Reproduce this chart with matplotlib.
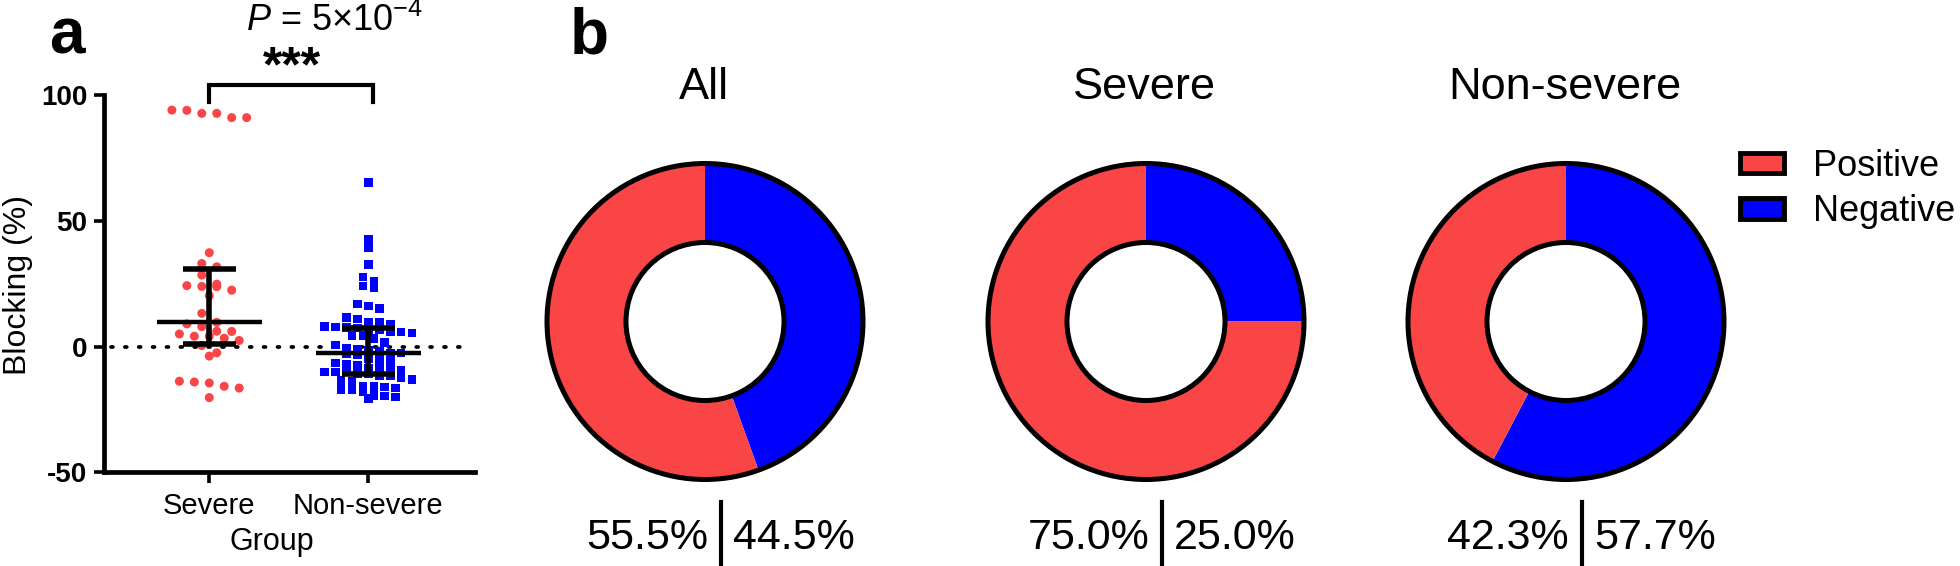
import numpy as np
import matplotlib
matplotlib.use("Agg")
import matplotlib.pyplot as plt
from matplotlib.patches import Patch, Circle
from matplotlib.lines import Line2D

plt.rcParams['font.family'] = ['Liberation Sans', 'DejaVu Sans']
plt.rcParams['mathtext.fontset'] = 'custom'
plt.rcParams['mathtext.rm'] = 'Liberation Sans'
plt.rcParams['mathtext.it'] = 'Liberation Sans:italic'

# ---------------- data ----------------
groups = ["Severe", "Non-severe"]
severe_vals = [91.0, 92.7, 92.7, 94.0, 91.0, 93.9,
               37.3, 33.0, 31.7, 28.4, 24.2, 23.8, 23.9, 22.4, 24.8, 20.2,
               13.2, 7.9, 9.0, 9.6, 4.1, 3.3, 4.1, 6.0, 5.0, 6.1, 0.4, 2.4,
               -3.8, -2.5, -14.1, -15.8, -14.5, -16.5, -13.8, -20.3]
nonsevere_vals = [65.3, 42.6, 39.3, 32.7, 26.1, 27.7, 23.5, 24.1, 16.9, 16.2, 15.2, 10.9, 11.6,
                  8.0, 7.3, 8.8, 6.5, 5.7, 7.6, 4.3, 5.7, 9.6, 4.4, 9.6, 5.4, 6.7, 7.7,
                  3.3, -2.5, -1.2, -0.6, -4.9, -1.6, 0.6, -2.9, -5.5, -1.9, 1.7, -2.5, -3.3, -6.9,
                  -10.2, -6.5, -11.5, -16.1, -18.1, -10.2, -13.9, -7.3, -10.8, -17.0, -20.7,
                  -10.2, -15.8, -19.4, -9.5, -12.5, -16.5, -20.0, -5.5, -8.8, -13.5, -15.7,
                  -19.7, -8.5, -11.5, -8.8, -13.0, -17.0, -10.8]
# median and interquartile range [Q1, median, Q3]
severe_stats = [1.1, 9.6, 31.0]
nonsevere_stats = [-11.1, -2.5, 7.4]
yticks = [-50, 0, 50, 100]
p_text = r"$P$ = 5×10$^{-4}$"
sig_text = "***"

pie_titles = ["All", "Severe", "Non-severe"]
positive_pct = [55.5, 75.0, 42.3]
negative_pct = [44.5, 25.0, 57.7]
legend_labels = ["Positive", "Negative"]

RED = "#F94545"
BLUE = "#0000FF"

W, H = 1960, 566
fig = plt.figure(figsize=(W / 100, H / 100), dpi=100)


def fx(x):
    return x / W


def fy(y):
    return 1 - y / H


def swarm(vals, bin_h, step):
    vals = np.asarray(vals, float)
    order = np.argsort(-vals)
    rows, cur, start = [], [], None
    for i in order:
        if start is None or start - vals[i] > bin_h:
            if cur:
                rows.append(cur)
            cur, start = [i], vals[i]
        else:
            cur.append(i)
    if cur:
        rows.append(cur)
    off = np.zeros(len(vals))
    for r in rows:
        k = len(r)
        for j, i in enumerate(r):
            off[i] = (j - (k - 1) / 2) * step
    return off


# ---------------- panel a ----------------
ax = fig.add_axes([fx(104), fy(472.3), (475 - 104) / W, (472.3 - 95) / H])
ax.set_xlim(0.338, 2.671)
ax.set_ylim(-50, 100)
for s in ["top", "right"]:
    ax.spines[s].set_visible(False)
for s in ["left", "bottom"]:
    ax.spines[s].set_linewidth(3.4)

ax.axhline(0, color="black", lw=2.7, linestyle=(0, (0.5, 3.2)), dash_capstyle="round",
           xmin=0.02, xmax=0.98, zorder=1)

sv = np.array(severe_vals)
nv = np.array(nonsevere_vals)
ax.scatter(1 + swarm(sv, 3.6, 0.094), sv, s=42, marker="o", color=RED, edgecolors="none", zorder=2)
ax.scatter(2 + swarm(nv, 3.3, 0.069), nv, s=38, marker="s", color=BLUE, edgecolors="none", zorder=2)

for xc, st in zip([1, 2], [severe_stats, nonsevere_stats]):
    q1, med, q3 = st
    ax.hlines(med, xc - 0.33, xc + 0.33, color="black", lw=3.2, zorder=3)
    ax.vlines(xc, q1, q3, color="black", lw=4.0, zorder=3)
    ax.hlines([q1, q3], xc - 0.167, xc + 0.167, color="black", lw=4.0, zorder=3)

ax.set_yticks(yticks)
ax.set_yticklabels([str(t) for t in yticks], fontsize=20, fontweight="bold")
ax.set_xticks([1, 2])
ax.set_xticklabels(groups, fontsize=21)
ax.tick_params(axis="y", length=7, width=2.6, pad=5)
ax.tick_params(axis="x", length=8, width=2.6, pad=6)

# significance bracket
ax.plot([1, 1, 2.03, 2.03], [97.3, 104, 104, 97.3], color="black", lw=3.0, clip_on=False,
        solid_joinstyle="miter")
ax.text(1.52, 110.5, sig_text, ha="center", va="center", fontsize=36, fontweight="bold")
fig.text(fx(335), fy(31), p_text, ha="center", va="baseline", fontsize=26)

fig.text(fx(18), fy(285), "Blocking (%)", rotation=90, ha="center", va="center", fontsize=23)
fig.text(fx(272), fy(542), "Group", ha="center", va="center", fontsize=22)

fig.text(fx(67), fy(53), "a", ha="center", va="baseline", fontsize=46, fontweight="bold")
fig.text(fx(589), fy(53), "b", ha="center", va="baseline", fontsize=46, fontweight="bold")

# ---------------- panel b ----------------
centers = [(705, 321.5), (1146, 321.5), (1566, 321.5)]
R = 158.0
for (cx, cy), title, pos, neg in zip(centers, pie_titles, positive_pct, negative_pct):
    half = 1.1 * R
    pa = fig.add_axes([fx(cx - half), fy(cy + half), 2 * half / W, 2 * half / H])
    pa.pie([neg, pos], colors=[BLUE, RED], startangle=90, counterclock=False, radius=1,
           wedgeprops=dict(width=0.5, edgecolor="none", linewidth=0))
    pa.add_patch(Circle((0, 0), 1.0, fill=False, edgecolor="black", lw=3.6, zorder=5))
    pa.add_patch(Circle((0, 0), 0.5, fill=False, edgecolor="black", lw=3.6, zorder=5))
    pa.set_xlim(-1.1, 1.1)
    pa.set_ylim(-1.1, 1.1)
    pa.set_aspect("equal")
    pa.axis("off")

    fig.text(fx(cx - 1), fy(99.3), title, ha="center", va="baseline", fontsize=32.5)
    bx = cx + 16
    fig.text(fx(bx - 13), fy(549), f"{pos:.1f}%", ha="right", va="baseline", fontsize=31)
    fig.text(fx(bx + 12), fy(549), f"{neg:.1f}%", ha="left", va="baseline", fontsize=31)
    fig.add_artist(Line2D([fx(bx), fx(bx)], [fy(502), fy(565)], color="black", lw=3.0,
                          transform=fig.transFigure))

handles = [Patch(facecolor=RED, edgecolor="black", lw=3.5),
           Patch(facecolor=BLUE, edgecolor="black", lw=3.5)]
fig.legend(handles, legend_labels, loc="center left", bbox_to_anchor=(fx(1740), fy(189)),
           frameon=False, fontsize=26, handlelength=1.22, handleheight=0.5,
           handletextpad=0.8, labelspacing=0.28, borderpad=0, borderaxespad=0)

fig.savefig("out.png", dpi=100)
